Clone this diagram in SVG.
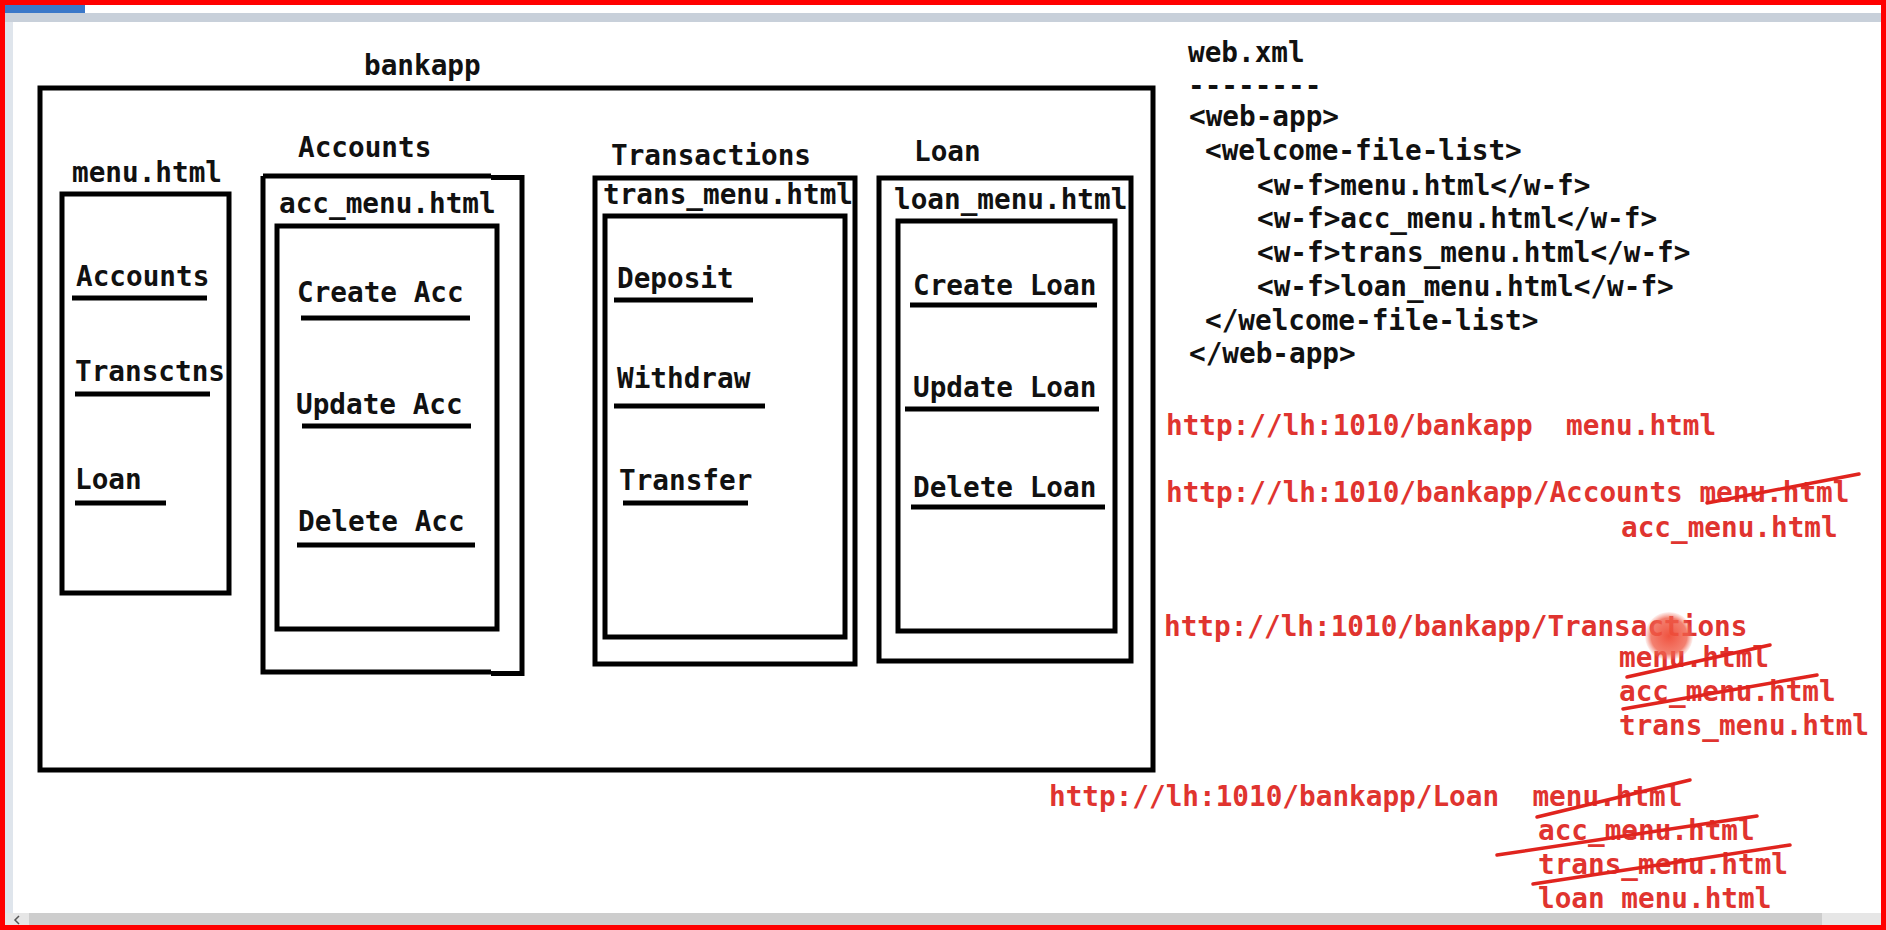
<svg xmlns="http://www.w3.org/2000/svg" width="1886" height="930" viewBox="0 0 1886 930">
<style>
text{font-family:"DejaVu Sans Mono","Liberation Mono",monospace;font-weight:bold;font-size:27.7px;}
.k{fill:#111;}
.r{fill:#e0342f;}
.box{fill:none;stroke:#000;stroke-width:5;}
.ul{stroke:#000;stroke-width:5;}
.st{stroke:#e0241e;stroke-width:3.5;stroke-linecap:round;}
</style>
<defs>
<radialGradient id="cur">
<stop offset="0" stop-color="#ef4a36" stop-opacity="0.95"/>
<stop offset="0.75" stop-color="#f0604c" stop-opacity="0.8"/>
<stop offset="1" stop-color="#f28070" stop-opacity="0.1"/>
</radialGradient>
</defs>
<rect width="1886" height="930" fill="#fff"/>
<g id="chrome">
<rect x="5" y="13" width="1877" height="9" fill="#c8d0da"/>
<rect x="5" y="4" width="80" height="9" fill="#3b78c9"/>
<rect x="5" y="22" width="8" height="891" fill="#dfe5ec"/>
<rect x="5" y="913" width="1877" height="13" fill="#e6e6e6"/>
<rect x="29" y="913" width="1793" height="13" fill="#cdcdcd"/>
<polyline points="19,916 15,920 19,924" fill="none" stroke="#555" stroke-width="1.5"/>
<rect x="2.5" y="2.5" width="1881" height="925" fill="none" stroke="#f00" stroke-width="5"/>
</g>
<g id="bankapp">
<rect class="box" x="40" y="88" width="1113" height="682"/>
<text class="k" x="364" y="75">bankapp</text>
</g>
<g id="menu">
<text class="k" x="72" y="182">menu.html</text>
<rect class="box" x="62" y="194" width="167" height="399"/>
<text class="k" x="76" y="286">Accounts</text>
<line class="ul" x1="72" y1="298" x2="207" y2="298"/>
<text class="k" x="75" y="381">Transctns</text>
<line class="ul" x1="75" y1="394" x2="210" y2="394"/>
<text class="k" x="75" y="489">Loan</text>
<line class="ul" x1="75" y1="503" x2="166" y2="503"/>
</g>
<g id="accounts">
<text class="k" x="298" y="157">Accounts</text>
<path class="box" d="M263,176 H491 M491,177.5 H522 V673.5 H491 M491,672 H263 V176"/>
<text class="k" x="279" y="213">acc_menu.html</text>
<rect class="box" x="277" y="226" width="220" height="403"/>
<text class="k" x="297" y="302">Create Acc</text>
<line class="ul" x1="301" y1="318" x2="470" y2="318"/>
<text class="k" x="296" y="414">Update Acc</text>
<line class="ul" x1="302" y1="426" x2="471" y2="426"/>
<text class="k" x="298" y="531">Delete Acc</text>
<line class="ul" x1="297" y1="545" x2="475" y2="545"/>
</g>
<g id="transactions">
<text class="k" x="611" y="165">Transactions</text>
<rect class="box" x="595" y="178" width="260" height="486"/>
<text class="k" x="603" y="204">trans_menu.html</text>
<rect class="box" x="605" y="216" width="240" height="421"/>
<text class="k" x="617" y="288">Deposit</text>
<line class="ul" x1="614" y1="300" x2="753" y2="300"/>
<text class="k" x="617" y="388">Withdraw</text>
<line class="ul" x1="614" y1="406" x2="765" y2="406"/>
<text class="k" x="619" y="490">Transfer</text>
<line class="ul" x1="623" y1="503" x2="748" y2="503"/>
</g>
<g id="loan">
<text class="k" x="914" y="161">Loan</text>
<rect class="box" x="879" y="178" width="252" height="483"/>
<text class="k" x="894" y="209">loan_menu.html</text>
<rect class="box" x="898" y="221" width="217" height="410"/>
<text class="k" x="913" y="295">Create Loan</text>
<line class="ul" x1="910" y1="305" x2="1097" y2="305"/>
<text class="k" x="913" y="397">Update Loan</text>
<line class="ul" x1="905" y1="409" x2="1099" y2="409"/>
<text class="k" x="913" y="497">Delete Loan</text>
<line class="ul" x1="911" y1="507" x2="1105" y2="507"/>
</g>
<g id="webxml">
<text class="k" x="1188" y="62">web.xml</text>
<text class="k" x="1188" y="95">--------</text>
<text class="k" x="1189" y="126">&lt;web-app&gt;</text>
<text class="k" x="1205" y="160">&lt;welcome-file-list&gt;</text>
<text class="k" x="1257" y="195">&lt;w-f&gt;menu.html&lt;/w-f&gt;</text>
<text class="k" x="1257" y="228">&lt;w-f&gt;acc_menu.html&lt;/w-f&gt;</text>
<text class="k" x="1257" y="262">&lt;w-f&gt;trans_menu.html&lt;/w-f&gt;</text>
<text class="k" x="1257" y="296">&lt;w-f&gt;loan_menu.html&lt;/w-f&gt;</text>
<text class="k" x="1205" y="330">&lt;/welcome-file-list&gt;</text>
<text class="k" x="1189" y="363">&lt;/web-app&gt;</text>
</g>
<g id="urls">
<text class="r" x="1166" y="435" xml:space="preserve">http://lh:1010/bankapp  menu.html</text>
<text class="r" x="1166" y="502">http://lh:1010/bankapp/Accounts menu.html</text>
<text class="r" x="1621" y="537">acc_menu.html</text>
<text class="r" x="1164" y="636">http://lh:1010/bankapp/Transactions</text>
<text class="r" x="1619" y="667">menu.html</text>
<text class="r" x="1619" y="701">acc_menu.html</text>
<text class="r" x="1619" y="735">trans_menu.html</text>
<text class="r" x="1049" y="806" xml:space="preserve">http://lh:1010/bankapp/Loan  menu.html</text>
<text class="r" x="1538" y="840">acc_menu.html</text>
<text class="r" x="1538" y="874">trans_menu.html</text>
<text class="r" x="1538" y="908">loan menu.html</text>
</g>
<g id="strikes">
<line class="st" x1="1707" y1="503" x2="1859" y2="474"/>
<line class="st" x1="1627" y1="677" x2="1770" y2="645"/>
<line class="st" x1="1623" y1="709" x2="1817" y2="675"/>
<line class="st" x1="1537" y1="817" x2="1690" y2="780"/>
<line class="st" x1="1497" y1="855" x2="1757" y2="816"/>
<line class="st" x1="1533" y1="884" x2="1790" y2="845"/>
</g>
<circle id="cursor" cx="1669" cy="636" r="24" fill="url(#cur)"/>
</svg>
